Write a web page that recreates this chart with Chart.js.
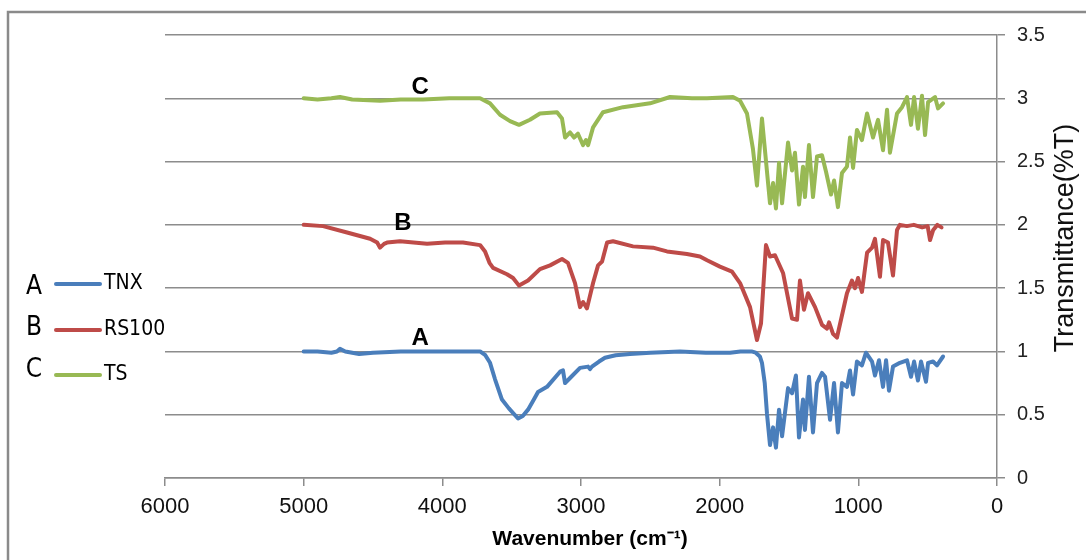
<!DOCTYPE html>
<html>
<head>
<meta charset="utf-8">
<script src="https://cdn.jsdelivr.net/npm/chart.js@4"></script>
<style>
 html,body{margin:0;padding:0;background:#fff;}
 canvas{display:block;}
</style>
</head>
<body>
<canvas id="chart" width="1086" height="560"></canvas>
<script>
// FTIR spectra, transmittance stacked with an offset of 1 per sample
const seriesNames = ['TNX', 'RS100', 'TS'];
const seriesTags = ['A', 'B', 'C'];
const seriesColors = ['#4a7ebb', '#be4b48', '#98b954'];

const xTicks = [6000, 5000, 4000, 3000, 2000, 1000, 0];
const yTicks = [0, 0.5, 1, 1.5, 2, 2.5, 3, 3.5];

// A - TNX
const tnxWave = [5000,4900,4800,4760,4738,4700,4600,4500,4300,4100,3900,3728,3690,3656,3620,3570,3520,3454,3420,3382,3340,3310,3245,3151,3130,3115,3079,3007,2949,2935,2921,2870,2827,2750,2647,2500,2286,2100,1925,1850,1770,1740,1710,1695,1675,1659,1637,1615,1594,1572,1550,1507,1478,1450,1428,1399,1385,1356,1327,1298,1262,1240,1204,1175,1147,1118,1082,1060,1038,1010,974,945,901,880,851,822,800,779,750,700,649,620,598,570,548,512,497,461,433,389];
const tnxT = [1.0,1.0,0.99,1.0,1.02,1.0,0.98,0.99,1.0,1.0,1.0,1.0,0.97,0.91,0.78,0.62,0.55,0.47,0.49,0.54,0.62,0.68,0.72,0.84,0.85,0.75,0.79,0.87,0.88,0.86,0.88,0.92,0.95,0.97,0.98,0.99,1.0,0.99,0.99,1.0,1.0,0.99,0.96,0.91,0.75,0.51,0.26,0.40,0.24,0.54,0.33,0.71,0.67,0.81,0.32,0.62,0.38,0.80,0.36,0.75,0.83,0.80,0.46,0.75,0.36,0.75,0.72,0.85,0.66,0.92,0.89,0.99,0.92,0.81,0.93,0.72,0.93,0.69,0.88,0.91,0.93,0.80,0.92,0.77,0.92,0.76,0.91,0.92,0.89,0.96];

// B - RS100
const rsWave = [5000,4860,4687,4521,4470,4449,4420,4399,4305,4110,3980,3851,3728,3692,3660,3634,3534,3490,3447,3382,3296,3223,3137,3094,3043,3007,2985,2957,2913,2877,2848,2812,2769,2625,2481,2380,2236,2142,2091,1998,1911,1853,1781,1731,1702,1666,1637,1601,1543,1478,1442,1421,1392,1363,1312,1262,1226,1211,1183,1154,1082,1046,1024,1002,974,937,901,880,844,822,786,750,721,700,650,600,540,500,483,460,430,400];
const rsT = [2.0,1.99,1.94,1.89,1.86,1.82,1.85,1.86,1.87,1.85,1.86,1.86,1.84,1.79,1.70,1.66,1.61,1.58,1.52,1.56,1.65,1.68,1.73,1.70,1.54,1.35,1.39,1.34,1.54,1.68,1.71,1.86,1.87,1.83,1.82,1.79,1.77,1.75,1.72,1.67,1.63,1.54,1.35,1.09,1.22,1.84,1.75,1.76,1.62,1.26,1.25,1.56,1.33,1.46,1.35,1.21,1.18,1.23,1.14,1.11,1.46,1.56,1.50,1.58,1.47,1.78,1.82,1.89,1.59,1.88,1.86,1.60,1.96,2.0,1.99,2.0,1.98,1.99,1.88,1.96,2.0,1.98];

// C - TS
const tsWave = [5000,4900,4800,4738,4650,4449,4300,4139,3950,3800,3728,3656,3584,3512,3447,3368,3296,3173,3137,3115,3079,3050,3022,2985,2964,2949,2913,2841,2697,2502,2358,2200,2091,1904,1853,1803,1760,1731,1695,1637,1615,1594,1572,1550,1507,1478,1457,1428,1399,1385,1356,1327,1298,1262,1233,1197,1175,1147,1118,1082,1060,1038,1010,974,937,894,858,822,793,772,721,685,649,620,598,570,541,519,497,447,425,389];
const tsT = [3.0,2.99,3.0,3.01,2.99,2.98,2.99,2.99,3.0,3.0,3.0,2.96,2.87,2.82,2.79,2.83,2.88,2.89,2.84,2.69,2.73,2.69,2.72,2.63,2.67,2.63,2.77,2.89,2.93,2.96,3.01,3.0,3.0,3.01,2.98,2.88,2.6,2.31,2.84,2.17,2.33,2.13,2.49,2.17,2.65,2.43,2.57,2.16,2.46,2.22,2.63,2.22,2.54,2.55,2.42,2.24,2.35,2.14,2.41,2.46,2.69,2.45,2.75,2.67,2.88,2.69,2.83,2.59,2.91,2.57,2.88,2.93,3.01,2.79,3.01,2.76,3.02,2.71,2.97,3.01,2.92,2.96];

// where the A/B/C tags sit, in data units
const tagWave = [4160, 4285, 4160];
const tagT = [1.10, 2.01, 3.09];

const waves = [tnxWave, rsWave, tsWave];
const values = [tnxT, rsT, tsT];

const GRID = '#8c8c8c';
const NARROW = "'Liberation Sans Narrow', 'DejaVu Sans Condensed', sans-serif";
const SANS = "'Liberation Sans', Arial, sans-serif";

const extras = {
  id: 'extras',
  afterDraw(chart){
    const ctx = chart.ctx;
    const xs = chart.scales.x, ys = chart.scales.y;
    ctx.save();
    // frame
    ctx.strokeStyle = '#8a8a8a';
    ctx.lineWidth = 2.5;
    ctx.strokeRect(8, 12, 1200, 700);

    // tags on the curves
    ctx.fillStyle = '#000';
    ctx.font = 'bold 24px ' + SANS;
    ctx.textAlign = 'center';
    ctx.textBaseline = 'middle';
    seriesTags.forEach((t, i) => {
      ctx.fillText(t, xs.getPixelForValue(tagWave[i]), ys.getPixelForValue(tagT[i]));
    });

    // legend
    const rows = [284, 330, 375];
    seriesNames.forEach((n, i) => {
      ctx.fillStyle = '#000';
      ctx.font = '26px ' + NARROW;
      ctx.textAlign = 'center';
      ctx.fillText(seriesTags[i], 34, rows[i] + (i === 2 ? -5 : i === 0 ? 3 : -2));
      ctx.strokeStyle = seriesColors[i];
      ctx.lineWidth = 4;
      ctx.lineCap = 'round';
      ctx.beginPath();
      ctx.moveTo(56, rows[i]);
      ctx.lineTo(100, rows[i]);
      ctx.stroke();
      ctx.font = '21px ' + NARROW;
      ctx.textAlign = 'left';
      ctx.fillText(n, 104, rows[i]);
    });

    // axis titles
    ctx.fillStyle = '#000';
    ctx.font = 'bold 21px ' + SANS;
    ctx.textAlign = 'center';
    ctx.fillText('Wavenumber (cm\u207B\u00B9)', 590, 539);

    ctx.translate(1066, 238);
    ctx.rotate(-Math.PI / 2);
    ctx.font = '27px ' + SANS;
    ctx.fillStyle = '#111';
    ctx.fillText('Transmittance(%T)', 0, 0);
    ctx.restore();
  }
};

new Chart(document.getElementById('chart').getContext('2d'), {
  type: 'line',
  data: {
    datasets: seriesNames.map((n, i) => ({
      label: n,
      data: waves[i].map((w, k) => ({x: w, y: values[i][k]})),
      borderColor: seriesColors[i],
      borderWidth: 4,
      pointRadius: 0,
      tension: 0,
      fill: false,
      borderJoinStyle: 'round',
      borderCapStyle: 'round'
    }))
  },
  options: {
    responsive: false,
    animation: false,
    events: [],
    layout: { padding: { left: 165, top: 35, right: 0, bottom: 0 } },
    plugins: { legend: { display: false }, tooltip: { enabled: false } },
    scales: {
      x: {
        type: 'linear', reverse: true, min: 0, max: 6000,
        afterBuildTicks: s => { s.ticks = xTicks.map(v => ({value: v})); },
        afterFit: s => { s.height = 82; },
        ticks: { color: '#111', font: { family: SANS, size: 22 }, padding: 8, maxRotation: 0,
                 callback: v => String(v) },
        grid: { drawOnChartArea: false, tickLength: 8, color: GRID, lineWidth: 1.5 },
        border: { color: GRID, width: 1.5 }
      },
      y: {
        position: 'right', min: 0, max: 3.5,
        afterBuildTicks: s => { s.ticks = yTicks.map(v => ({value: v})); },
        afterFit: s => { s.width = 89; },
        ticks: { color: '#222', font: { family: SANS, size: 20 }, padding: 12,
                 callback: v => String(v) },
        grid: { tickLength: 8, color: GRID, lineWidth: 1.5 },
        border: { color: GRID, width: 1.5 }
      }
    }
  },
  plugins: [extras]
});
</script>
</body>
</html>
